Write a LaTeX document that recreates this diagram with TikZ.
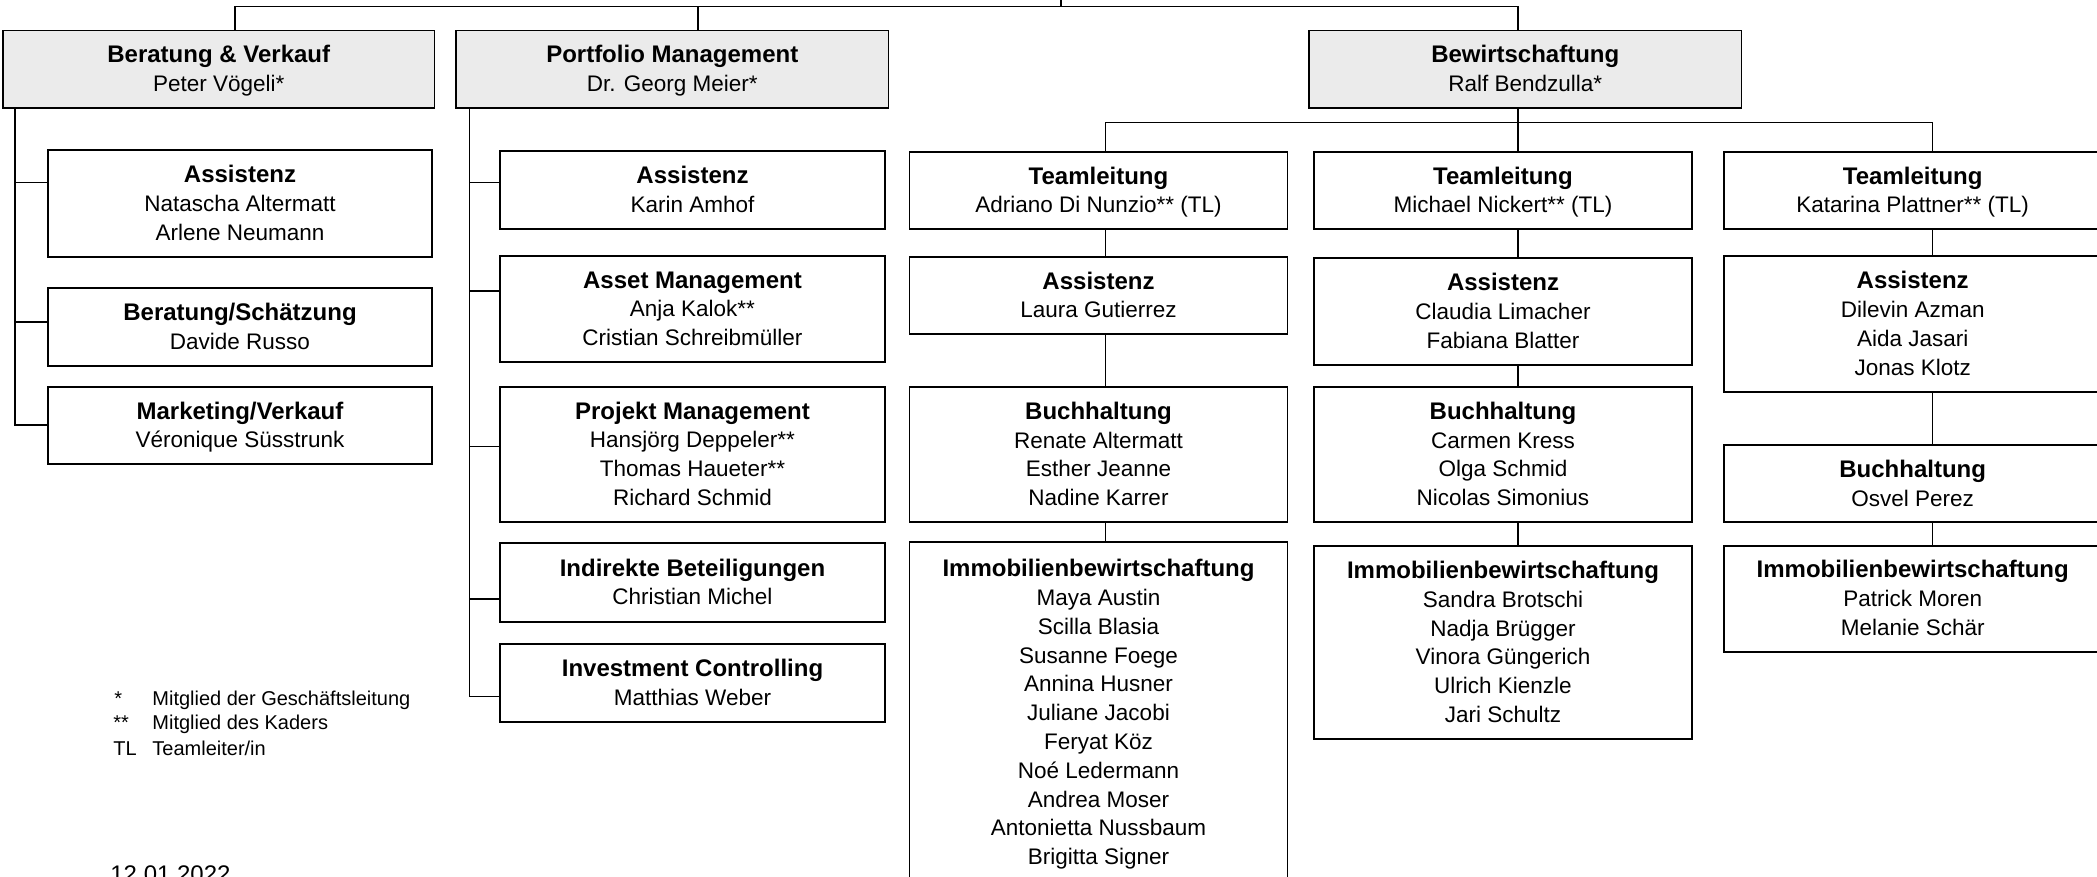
\documentclass[tikz,border=0pt]{standalone}
\usepackage{fontspec}
\setmainfont{Liberation Sans}
\definecolor{hdr}{HTML}{EBEBEB}
\newcommand\mystr{\rule[-3.2pt]{0pt}{14.4pt}}
\newcommand\ttl[1]{{\fontsize{12}{14.4}\selectfont\bfseries\mystr #1}}
\tikzset{
  box/.style={draw=black, line width=0.85pt, fill=white, rectangle, inner sep=0pt,
    align=center, font=\fontsize{11.25}{14.4}\selectfont},
  head/.style={box, fill=hdr},
  conn/.style={line width=0.75pt, draw=black},
  legend/.style={anchor=base west, inner sep=0pt, font=\fontsize{10}{12}\selectfont},
}
\begin{document}
\begin{tikzpicture}[x=0.5pt,y=-0.5pt]
\useasboundingbox (0,0) rectangle (2097,877);
\clip (0,0) rectangle (2097,877);

% ---------- junction coordinates ----------
\coordinate (top) at (1061,-4);
\coordinate (jL) at (235,6.7);
\coordinate (jM) at (698,6.7);
\coordinate (jR) at (1518,6.7);
\coordinate (sv1) at (15,182.7);
\coordinate (sv2) at (15,322);
\coordinate (sv3) at (15,425);
\coordinate (sp1) at (469.6,182.7);
\coordinate (sp2) at (469.6,291);
\coordinate (sp3) at (469.6,446.7);
\coordinate (sp4) at (469.6,599);
\coordinate (sp5) at (469.6,696.7);
\coordinate (hb) at (1518,122.7);
\coordinate (hL) at (1105.7,122.7);
\coordinate (hR) at (1932.3,122.7);

% ---------- top level ----------
\node[head, minimum width=215.75pt, minimum height=38.75pt] (bv) at (218.75,69.25)
  {\ttl{Beratung \& Verkauf}\\\mystr Peter Vögeli*};
\node[head, minimum width=216.25pt, minimum height=38.75pt] (pm) at (672.25,69.25)
  {\ttl{Portfolio Management}\\\mystr Dr. Georg Meier*};
\node[head, minimum width=216.25pt, minimum height=38.75pt] (bw) at (1525.25,69.25)
  {\ttl{Bewirtschaftung}\\\mystr Ralf Bendzulla*};

% ---------- Beratung & Verkauf ----------
\node[box, minimum width=192pt, minimum height=53.35pt] (bva) at (240,203.35)
  {\ttl{Assistenz}\\\mystr Natascha Altermatt\\\mystr Arlene Neumann};
\node[box, minimum width=192pt, minimum height=39pt] (bvb) at (240,327)
  {\ttl{Beratung/Schätzung}\\\mystr Davide Russo};
\node[box, minimum width=192pt, minimum height=38.8pt] (bvc) at (240,425.5)
  {\ttl{Marketing/Verkauf}\\\mystr Véronique Süsstrunk};

% ---------- Portfolio Management ----------
\node[box, minimum width=192.5pt, minimum height=39pt] (pma) at (692.5,189.7)
  {\ttl{Assistenz}\\\mystr Karin Amhof};
\node[box, minimum width=192.5pt, minimum height=53.15pt] (pmb) at (692.5,308.85)
  {\ttl{Asset Management}\\\mystr Anja Kalok**\\\mystr Cristian Schreibmüller};
\node[box, minimum width=192.5pt, minimum height=67.5pt] (pmc) at (692.5,454.2)
  {\ttl{Projekt Management}\\\mystr Hansjörg Deppeler**\\\mystr Thomas Haueter**\\\mystr Richard Schmid};
\node[box, minimum width=192.5pt, minimum height=39.2pt] (pmd) at (692.5,582.5)
  {\ttl{Indirekte Beteiligungen}\\\mystr Christian Michel};
\node[box, minimum width=192.5pt, minimum height=38.85pt] (pme) at (692.5,682.85)
  {\ttl{Investment Controlling}\\\mystr Matthias Weber};

% ---------- Bewirtschaftung teams ----------
\node[box, minimum width=189pt, minimum height=38.8pt] (t1) at (1098.5,190.5)
  {\ttl{Teamleitung}\\\mystr Adriano Di Nunzio** (TL)};
\node[box, minimum width=189pt, minimum height=38.8pt] (t2) at (1503,190.5)
  {\ttl{Teamleitung}\\\mystr Michael Nickert** (TL)};
\node[box, minimum width=189pt, minimum height=38.8pt] (t3) at (1912.7,190.5)
  {\ttl{Teamleitung}\\\mystr Katarina Plattner** (TL)};

\node[box, minimum width=189pt, minimum height=38.8pt] (a1) at (1098.5,295.5)
  {\ttl{Assistenz}\\\mystr Laura Gutierrez};
\node[box, minimum width=189pt, minimum height=53.65pt] (a2) at (1503,311.35)
  {\ttl{Assistenz}\\\mystr Claudia Limacher\\\mystr Fabiana Blatter};
\node[box, minimum width=189pt, minimum height=68.15pt] (a3) at (1912.7,324.15)
  {\ttl{Assistenz}\\\mystr Dilevin Azman\\\mystr Aida Jasari\\\mystr Jonas Klotz};

\node[box, minimum width=189pt, minimum height=67.8pt] (b1) at (1098.5,454.5)
  {\ttl{Buchhaltung}\\\mystr Renate Altermatt\\\mystr Esther Jeanne\\\mystr Nadine Karrer};
\node[box, minimum width=189pt, minimum height=67.8pt] (b2) at (1503,454.5)
  {\ttl{Buchhaltung}\\\mystr Carmen Kress\\\mystr Olga Schmid\\\mystr Nicolas Simonius};
\node[box, minimum width=189pt, minimum height=38.65pt] (b3) at (1912.7,483.65)
  {\ttl{Buchhaltung}\\\mystr Osvel Perez};

\node[box, minimum width=189pt, minimum height=170.35pt] (i1) at (1098.5,712.65)
  {\ttl{Immobilienbewirtschaftung}\\\mystr Maya Austin\\\mystr Scilla Blasia\\\mystr Susanne Foege\\\mystr Annina Husner\\\mystr Juliane Jacobi\\\mystr Feryat Köz\\\mystr Noé Ledermann\\\mystr Andrea Moser\\\mystr Antonietta Nussbaum\\\mystr Brigitta Signer};
\node[box, minimum width=189pt, minimum height=96.8pt] (i2) at (1503,642.5)
  {\ttl{Immobilienbewirtschaftung}\\\mystr Sandra Brotschi\\\mystr Nadja Brügger\\\mystr Vinora Güngerich\\\mystr Ulrich Kienzle\\\mystr Jari Schultz};
\node[box, minimum width=189pt, minimum height=53pt] (i3) at (1912.7,598.7)
  {\ttl{Immobilienbewirtschaftung}\\\mystr Patrick Moren\\\mystr Melanie Schär};

% ---------- connectors ----------
\draw[conn] (bv.north -| jL) -- (jL) -- (jR) -- (bw.north -| jR);
\draw[conn] (top) -- (top |- jL);
\draw[conn] (jM) -- (pm.north -| jM);

\draw[conn] (bv.south -| sv3) -- (sv3) -- (sv3 -| bvc.west);
\draw[conn] (sv1) -- (sv1 -| bva.west);
\draw[conn] (sv2) -- (sv2 -| bvb.west);

\draw[conn] (pm.south -| sp5) -- (sp5) -- (sp5 -| pme.west);
\draw[conn] (sp1) -- (sp1 -| pma.west);
\draw[conn] (sp2) -- (sp2 -| pmb.west);
\draw[conn] (sp3) -- (sp3 -| pmc.west);
\draw[conn] (sp4) -- (sp4 -| pmd.west);

\draw[conn] (bw.south -| hb) -- (hb);
\draw[conn] (t1.north -| hL) -- (hL) -- (hR) -- (t3.north -| hR);
\draw[conn] (hb) -- (t2.north -| hb);

\draw[conn] (t1.south -| hL) -- (a1.north -| hL);
\draw[conn] (a1.south -| hL) -- (b1.north -| hL);
\draw[conn] (b1.south -| hL) -- (i1.north -| hL);
\draw[conn] (t2.south -| hb) -- (a2.north -| hb);
\draw[conn] (a2.south -| hb) -- (b2.north -| hb);
\draw[conn] (b2.south -| hb) -- (i2.north -| hb);
\draw[conn] (t3.south -| hR) -- (a3.north -| hR);
\draw[conn] (a3.south -| hR) -- (b3.north -| hR);
\draw[conn] (b3.south -| hR) -- (i3.north -| hR);

% ---------- legend ----------
\node[legend] (l1s) at (114,705) {*};
\node[legend] (l1t) at (152,705) {Mitglied der Geschäftsleitung};
\node[legend] (l2s) at (113,729.5) {**};
\node[legend] (l2t) at (152,729.5) {Mitglied des Kaders};
\node[legend] (l3s) at (113,755) {TL};
\node[legend] (l3t) at (152,755) {Teamleiter/in};

\node[anchor=base west, inner sep=0pt, font=\fontsize{12}{14}\selectfont] (date) at (110,882) {12.01.2022};
\end{tikzpicture}
\end{document}
